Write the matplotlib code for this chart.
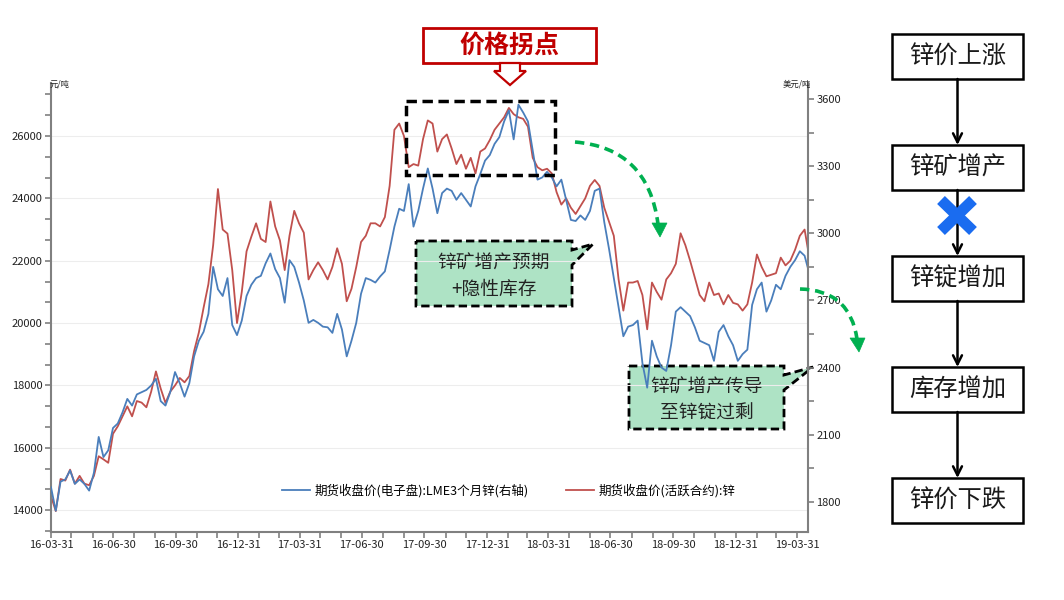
import numpy as np
import pandas as pd
import matplotlib
matplotlib.use('Agg')
import matplotlib.pyplot as plt
import matplotlib.dates as mdates
from matplotlib.ticker import MultipleLocator
from matplotlib.patches import Rectangle, Polygon, PathPatch
from matplotlib.path import Path

plt.rcParams['font.family'] = ['Noto Sans CJK SC', 'DejaVu Sans']
plt.rcParams['axes.unicode_minus'] = False

# weekly closes
shfe_zinc = [
    14450, 13970, 15000, 14950, 15300, 14850, 15100, 14850, 14800, 15100,
    15730, 15630, 15520, 16450, 16690, 17010, 17330, 17010, 17500, 17450,
    17300, 17800, 18450, 17900, 17440, 17800, 18000, 18240, 18100, 18300,
    19100, 19700, 20500, 21250, 22500, 24300, 23000, 22870, 21700, 20000,
    21000, 22300, 22770, 23200, 22700, 22600, 23900, 23100, 22650, 21700,
    22800, 23600, 23200, 22900, 21400, 21700, 21950, 21700, 21400, 21800,
    22400, 21900, 20700, 21100, 21800, 22600, 22800, 23200, 23200, 23100,
    23400, 24400, 26200, 26400, 26000, 25000, 25100, 25050, 25900, 26500,
    26400, 25500, 25900, 26050, 25600, 25100, 25400, 24950, 25300, 24800,
    25500, 25600, 25870, 26200, 26400, 26600, 26900, 26700, 26600, 26550,
    26300, 25300, 25000, 24900, 24950, 24800, 24200, 23800, 24000, 23700,
    23500, 23750, 24000, 24400, 24590, 24400, 23700, 23250, 22800, 21400,
    20400, 21300, 21300, 21350, 20900, 19800, 21300, 21000, 20750, 21400,
    21600, 21900, 22880, 22500, 22000, 21450, 20900, 20700, 21300, 20900,
    20950, 20600, 20900, 20650, 20600, 20400, 20600, 21300, 22200, 21800,
    21500, 21550, 21600, 22100, 21850, 22000, 22350, 22800, 23000, 22100,
]
lme_zinc = [
    1865, 1760, 1890, 1900, 1940, 1880, 1900, 1880, 1850, 1930,
    2090, 2000, 2030, 2130, 2150, 2200, 2260, 2230, 2280, 2290,
    2300, 2320, 2350, 2250, 2230, 2290, 2380, 2330, 2270, 2330,
    2450, 2520, 2560, 2640, 2850, 2750, 2720, 2800, 2590, 2545,
    2610, 2720, 2770, 2800, 2810, 2866, 2910, 2840, 2800, 2690,
    2880, 2850, 2780, 2700, 2600, 2613, 2600, 2583, 2580, 2555,
    2640, 2570, 2450, 2520, 2600, 2730, 2800, 2792, 2780, 2807,
    2830, 2926, 3030, 3110, 3100, 3220, 3030, 3100, 3200, 3290,
    3200, 3090, 3180, 3200, 3190, 3150, 3180, 3150, 3120, 3210,
    3265, 3325, 3350, 3400, 3430, 3500, 3550, 3420, 3575, 3540,
    3500, 3370, 3240, 3250, 3275, 3250, 3210, 3240, 3150, 3060,
    3055, 3080, 3060, 3100, 3190, 3200, 3050, 2930, 2800, 2670,
    2540, 2583, 2590, 2610, 2420, 2310, 2520, 2450, 2400, 2385,
    2500, 2650, 2670, 2650, 2630, 2580, 2520, 2510, 2500, 2430,
    2560, 2590, 2540, 2500, 2430, 2460, 2480, 2680, 2750, 2780,
    2650, 2700, 2770, 2750, 2810, 2850, 2880, 2920, 2900, 2820,
]
dates = pd.date_range('2016-03-31', periods=len(shfe_zinc), freq='7D')
quarter_ticks = pd.date_range('2016-03-31', '2019-03-31', freq='QE')
month_ticks = pd.date_range('2016-03-31', '2019-04-16', freq='ME')

lme_label = '期货收盘价(电子盘):LME3个月锌(右轴)'
shfe_label = '期货收盘价(活跃合约):锌'
title = '价格拐点'
note1 = ['锌矿增产预期', '+隐性库存']
note2 = ['锌矿增产传导', '至锌锭过剩']
flow = ['锌价上涨', '锌矿增产', '锌锭增加', '库存增加', '锌价下跌']

RED = '#C0504D'
BLUE = '#4A7EBB'
GREEN = '#00B050'
GRAY = '#808080'
W, H = 1064, 600

fig = plt.figure(figsize=(W / 100, H / 100), dpi=100)

# pixel-space layer under the chart (callout boxes)
under = fig.add_axes([0, 0, 1, 1], label='under', zorder=0)
under.set_xlim(0, W)
under.set_ylim(H, 0)
under.axis('off')

ax = fig.add_axes([51 / W, (H - 532) / H, 757 / W, 449 / H], zorder=1)
ax.patch.set_visible(False)
ax2 = ax.twinx()
ax2.set_zorder(2)
ax2.patch.set_visible(False)

l_shfe, = ax.plot(dates, shfe_zinc, color=RED, lw=1.3)
l_lme, = ax2.plot(dates, lme_zinc, color=BLUE, lw=1.3)

ax.set_xlim(pd.Timestamp('2016-03-31'), pd.Timestamp('2019-04-16'))
ax.set_ylim(13300, 27700)
ax2.set_ylim(1665, 3672)
ax.yaxis.set_major_locator(MultipleLocator(2000))
ax.yaxis.set_minor_locator(MultipleLocator(2000 / 3))
ax2.yaxis.set_major_locator(MultipleLocator(300))
ax2.yaxis.set_minor_locator(MultipleLocator(150))
ax.set_xticks(quarter_ticks)
ax.set_xticks(month_ticks, minor=True)
ax.xaxis.set_major_formatter(mdates.DateFormatter('%y-%m-%d'))
ax.grid(axis='y', which='major', color='#ededed', lw=0.8)

for a in (ax, ax2):
    a.tick_params(axis='both', which='both', direction='out', length=4, width=1.2,
                  color=GRAY, labelsize=8, labelcolor='#222222', pad=2)
ax.spines['top'].set_visible(False)
ax.spines['right'].set_visible(False)
for s in ('left', 'bottom'):
    ax.spines[s].set_color(GRAY)
    ax.spines[s].set_linewidth(1.5)
for s in ('top', 'left', 'bottom'):
    ax2.spines[s].set_visible(False)
ax2.spines['right'].set_color(GRAY)
ax2.spines['right'].set_linewidth(1.5)

ax2.legend([l_lme, l_shfe], [lme_label, shfe_label], ncol=2, loc='center',
           bbox_to_anchor=(0.605, 0.092), frameon=False, fontsize=9,
           handlelength=2.2, columnspacing=3, handletextpad=0.4)

# callout boxes under the lines
def callout(x0, y0, x1, y1, ya, yb, tip, lines, cy):
    under.add_patch(Polygon([(x0, y0), (x1, y0), (x1, ya), tip, (x1, yb), (x1, y1), (x0, y1)],
                            closed=True, fc='#AEE3C5', ec='black', lw=2, ls=(0, (3, 1.5))))
    for k, t in enumerate(lines):
        under.text((x0 + x1) / 2, cy + 26 * k, t, fontsize=13.5, ha='center', va='center',
                   color='#222222')

callout(416, 241, 572, 306, 250, 265, (593, 244), note1, 263)
callout(629, 366, 784, 429, 375, 390, (813, 367), note2, 387)

# overlay in pixel space
over = fig.add_axes([0, 0, 1, 1], label='over', zorder=5)
over.set_xlim(0, W)
over.set_ylim(H, 0)
over.axis('off')
over.patch.set_visible(False)

over.text(50, 88, '元/吨', fontsize=6, ha='left', va='bottom', color='#222222')
over.text(811, 88, '美元/吨', fontsize=6, ha='right', va='bottom', color='#222222')

over.add_patch(Rectangle((423, 28), 173, 35, fc='white', ec='#C00000', lw=2))
over.text(509.5, 45.5, title, color='#C00000', fontsize=18, fontweight='bold',
          ha='center', va='center')
over.add_patch(Polygon([(500, 63), (520, 63), (520, 71), (526, 71), (510, 85), (494, 71), (500, 71)],
                       closed=True, fc='white', ec='#C00000', lw=1.6))

over.add_patch(Rectangle((406, 101), 149, 74, fill=False, ec='black', lw=2.5, ls=(0, (3, 1.6))))

def green_arrow(p0, p1, p2, head):
    path = Path([p0, p1, p2], [Path.MOVETO, Path.CURVE3, Path.CURVE3])
    over.add_patch(PathPatch(path, fill=False, ec=GREEN, lw=2.6, ls=(0, (2.6, 1.6))))
    over.add_patch(Polygon(head, closed=True, fc=GREEN, ec=GREEN, lw=0.5))

green_arrow((575, 142), (648, 148), (658, 224), [(652, 223), (667, 223), (660, 237)])
green_arrow((800, 289), (850, 290), (857, 339), [(850, 338), (865, 338), (859, 352)])

# flow chart
spans = [(34, 79), (145, 190), (256, 301), (367, 412), (478, 523)]
cx = 957.5
for (y0, y1), t in zip(spans, flow):
    over.add_patch(Rectangle((892, y0), 131, y1 - y0, fc='white', ec='black', lw=1.8))
    over.text(cx, (y0 + y1) / 2, t, fontsize=17.5, ha='center', va='center', color='#1a1a1a')
for (a0, a1), (b0, b1) in zip(spans[:-1], spans[1:]):
    over.annotate('', xy=(cx, b0), xytext=(cx, a1),
                  arrowprops=dict(arrowstyle='->', lw=1.8, color='black',
                                  mutation_scale=16, shrinkA=0, shrinkB=0))
over.plot([941, 973], [200, 231], color='#1A6CF0', lw=8, solid_capstyle='butt', zorder=6)
over.plot([973, 941], [200, 231], color='#1A6CF0', lw=8, solid_capstyle='butt', zorder=6)

fig.savefig('out.png', dpi=100, facecolor='white')
